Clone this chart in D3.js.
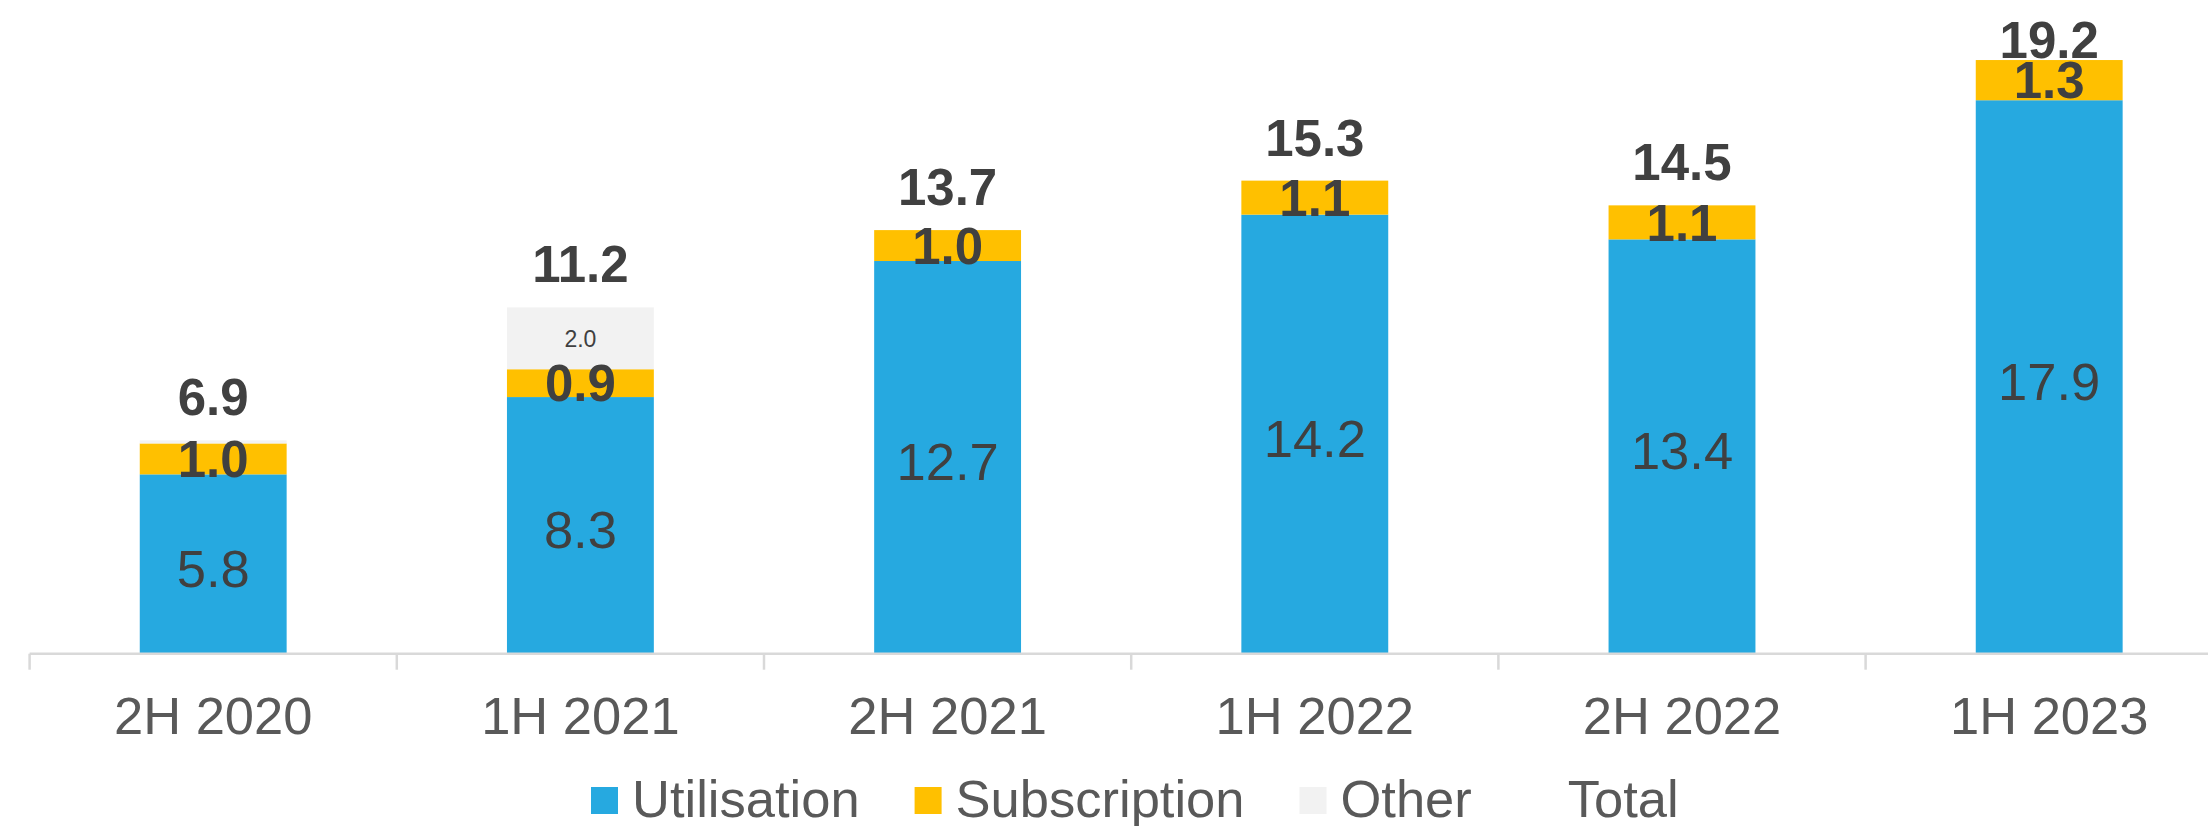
<!DOCTYPE html>
<html>
<head>
<meta charset="utf-8">
<script src="https://cdn.jsdelivr.net/npm/d3@7/dist/d3.min.js"></script>
<style>
  html, body { margin: 0; padding: 0; background: #ffffff; overflow: hidden; }
  svg { display: block; font-family: "Liberation Sans", Arial, sans-serif; }
</style>
</head>
<body>
<svg id="chart" width="2208" height="826"></svg>
<script>
// Half-year periods on the category axis
const periods = ["2H 2020", "1H 2021", "2H 2021", "1H 2022", "2H 2022", "1H 2023"];

// Stacked components
const utilisation  = [5.8, 8.3, 12.7, 14.2, 13.4, 17.9];
const subscription = [1.0, 0.9, 1.0, 1.1, 1.1, 1.3];
const other        = [0.1, 2.0, 0, 0, 0, 0];

// Period totals shown above each stack
const totals = [6.9, 11.2, 13.7, 15.3, 14.5, 19.2];

const seriesNames  = ["Utilisation", "Subscription", "Other"];
const legendNames  = ["Utilisation", "Subscription", "Other", "Total"];
const seriesColors = { Utilisation: "#26A9E0", Subscription: "#FFC000", Other: "#F2F2F2", Total: "none" };

const svg = d3.select("#chart");
const W = 2208, H = 826;

const plot = { left: 29.6, right: 2232.8, baseline: 653.7, top: 35.3 };

const rows = periods.map((p, i) => ({
  period: p,
  Utilisation: utilisation[i],
  Subscription: subscription[i],
  Other: other[i],
  total: totals[i]
}));

const stacked = d3.stack().keys(seriesNames)(rows);

const x = d3.scaleBand()
  .domain(periods)
  .range([plot.left, plot.right])
  .paddingInner(0.6)
  .paddingOuter(0.3);

const y = d3.scaleLinear()
  .domain([0, 20])
  .range([plot.baseline, plot.top]);

// Bars
const layers = svg.append("g").attr("class", "bars")
  .selectAll("g")
  .data(stacked)
  .join("g")
  .attr("fill", d => seriesColors[d.key]);

layers.selectAll("rect")
  .data(d => d.map(s => ({ key: d.key, s })))
  .join("rect")
  .filter(d => d.s[1] - d.s[0] > 0)
  .attr("x", d => x(d.s.data.period))
  .attr("width", x.bandwidth())
  .attr("y", d => y(d.s[1]))
  .attr("height", d => y(d.s[0]) - y(d.s[1]));

// Category axis: light baseline with ticks between bands
const axis = d3.axisBottom(x).tickSize(0).tickPadding(0);
const gAxis = svg.append("g")
  .attr("transform", `translate(0,${plot.baseline})`)
  .call(axis);
gAxis.select(".domain").remove();
gAxis.selectAll(".tick line").remove();
gAxis.selectAll(".tick text")
  .attr("y", 80)
  .attr("dy", 0)
  .attr("fill", "#595959")
  .attr("font-size", 52.5)
  .attr("font-family", "'Liberation Sans', Arial, sans-serif");

gAxis.append("line")
  .attr("x1", plot.left).attr("x2", W)
  .attr("y1", 0).attr("y2", 0)
  .attr("stroke", "#D9D9D9").attr("stroke-width", 2.5);

const step = x.step();
const boundaries = d3.range(periods.length + 1).map(i => plot.left + i * step);
gAxis.selectAll("line.sep")
  .data(boundaries)
  .join("line")
  .attr("class", "sep")
  .attr("x1", d => d).attr("x2", d => d)
  .attr("y1", 0).attr("y2", 16)
  .attr("stroke", "#D9D9D9").attr("stroke-width", 2.5);

// Segment value labels
const labelFont = 51;
const cap = 0.716;
const labels = svg.append("g").attr("class", "seg-labels")
  .attr("text-anchor", "middle").attr("fill", "#404040");

stacked.forEach(layer => {
  const key = layer.key;
  const size = key === "Other" ? 23 : (key === "Utilisation" ? 52.5 : labelFont);
  const weight = key === "Subscription" ? "bold" : "normal";
  const shift = key === "Utilisation" ? 4 : 0;
  labels.selectAll(null)
    .data(layer.filter(s => (key === "Other" ? s[1] - s[0] >= 0.5 : s[1] - s[0] > 0)))
    .join("text")
    .attr("x", s => x(s.data.period) + x.bandwidth() / 2)
    .attr("y", s => (y(s[0]) + y(s[1])) / 2 + size * cap / 2 + shift)
    .attr("font-size", size)
    .attr("font-weight", weight)
    .text(s => d3.format(".1f")(s[1] - s[0]));
});

// Totals above stacks, kept inside the chart frame
const topLimit = 21 + labelFont * cap;
svg.append("g").attr("class", "totals")
  .attr("text-anchor", "middle").attr("fill", "#404040")
  .selectAll("text")
  .data(rows)
  .join("text")
  .attr("x", d => x(d.period) + x.bandwidth() / 2)
  .attr("y", d => Math.max(y(d.total) - 25, topLimit))
  .attr("font-size", labelFont)
  .attr("font-weight", "bold")
  .text(d => d3.format(".1f")(d.total));

// Legend
const legend = svg.append("g").attr("class", "legend")
  .attr("font-size", 52.5).attr("fill", "#595959");
let lx = 591;
const swatch = 27, gapSwatch = 14, gapItem = 55, legendBase = 817;
legendNames.forEach(name => {
  const g = legend.append("g");
  g.append("rect")
    .attr("x", lx).attr("y", legendBase - 30)
    .attr("width", swatch).attr("height", swatch)
    .attr("fill", seriesColors[name]);
  const t = g.append("text")
    .attr("x", lx + swatch + gapSwatch)
    .attr("y", legendBase)
    .text(name);
  lx += swatch + gapSwatch + t.node().getComputedTextLength() + gapItem;
});
</script>
</body>
</html>
